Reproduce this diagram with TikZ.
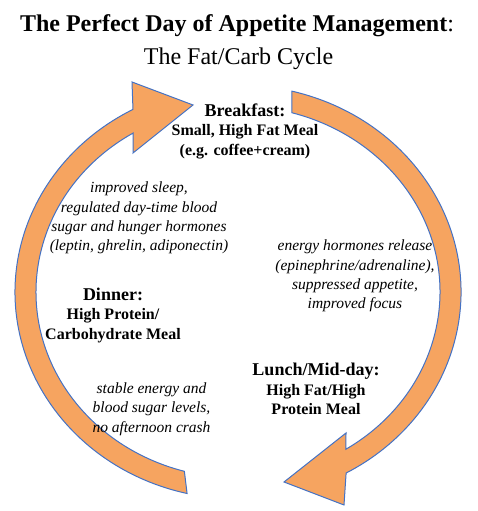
\documentclass[tikz,border=0pt]{standalone}
\usepackage{fontspec}
\setmainfont{Liberation Serif}
\usetikzlibrary{positioning}
\definecolor{cycorange}{RGB}{246,164,96}
\definecolor{cycblue}{RGB}{68,114,196}
\newcommand{\mealhead}[1]{{\fontsize{18}{21}\selectfont #1}}
\tikzset{
  cycarr/.style={draw=cycblue, fill=cycorange, line width=1pt, line join=miter},
  ttl/.style={inner sep=0pt, anchor=base, font=\fontsize{24}{28}\selectfont},
  meal/.style={align=center, inner sep=0pt, font=\fontsize{16}{19.5}\selectfont\bfseries},
  effect/.style={align=center, inner sep=0pt, font=\fontsize{15.5}{19.3}\selectfont\itshape},
}

\begin{document}
\begin{tikzpicture}[x=1pt,y=1pt]
    \useasboundingbox (0,0) rectangle (477,511);
    % title
    \node[ttl] (title) at (237,479) {{\bfseries The Perfect Day of Appetite Management}:};
    \node[ttl] (subtitle) at (238.5,446) {The Fat/Carb Cycle};
    % the two cycle arrows
    \begin{scope}[shift={(238,219)}]
      \draw[cycarr] (256.8:223 and 207) arc[start angle=256.8, end angle=118.1, x radius=223, y radius=207]
        -- (-106,210) -- (-45,187) -- (-105,139)
        -- (121.3:202 and 186) arc[start angle=121.3, end angle=254.6, x radius=202, y radius=186] -- cycle;
      \draw[cycarr] (76:223 and 207) arc[start angle=76, end angle=-61, x radius=223, y radius=207]
        -- (106,-213) -- (46,-190) -- (108,-141)
        -- (-57.7:202 and 186) arc[start angle=-57.7, end angle=74.5, x radius=202, y radius=186] -- cycle;
    \end{scope}
    % meals
    \node[meal] (breakfast) at (245,380) {\mealhead{Breakfast:}\\Small, High Fat Meal\\(e.g. coffee+cream)};
    \node[meal] (lunch) at (316,122) {\mealhead{Lunch/Mid-day:}\\High Fat/High\\Protein Meal};
    \node[meal] (dinner) at (113,196) {\mealhead{Dinner:}\\High Protein/\\Carbohydrate Meal};
    % effects
    \node[effect] (sleep) at (139,293) {improved sleep,\\regulated day-time blood\\sugar and hunger hormones\\(leptin, ghrelin, adiponectin)};
    \node[effect] (energy) at (355,235) {energy hormones release\\(epinephrine/adrenaline),\\suppressed appetite,\\improved focus};
    \node[effect] (stable) at (151.5,102) {stable energy and\\blood sugar levels,\\no afternoon crash};
\end{tikzpicture}
\end{document}
